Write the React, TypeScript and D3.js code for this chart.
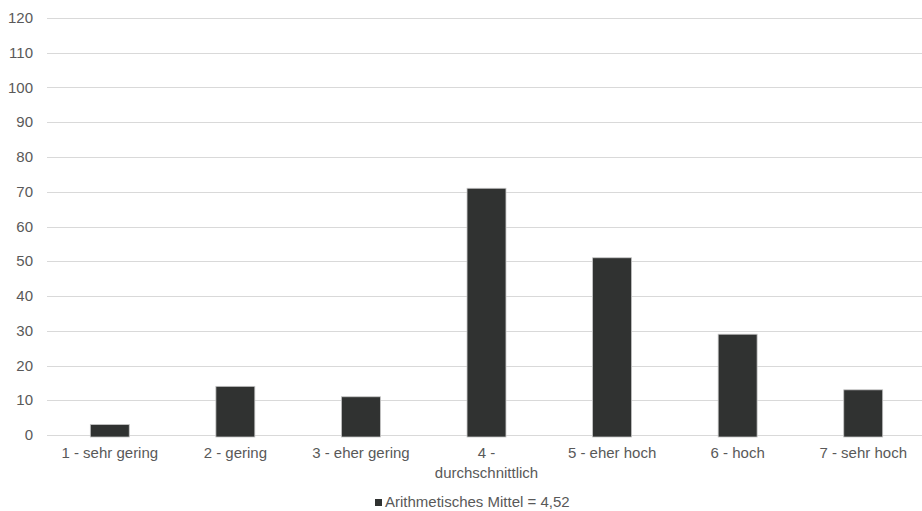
import React from "react";
import * as d3 from "d3";

const categories: string[][] = [
  ["1 - sehr gering"],
  ["2 - gering"],
  ["3 - eher gering"],
  ["4 -", "durchschnittlich"],
  ["5 - eher hoch"],
  ["6 - hoch"],
  ["7 - sehr hoch"],
];
const values: number[] = [3, 14, 11, 71, 51, 29, 13];
const yTicks: number[] = [0, 10, 20, 30, 40, 50, 60, 70, 80, 90, 100, 110, 120];
const legendLabel = "Arithmetisches Mittel = 4,52";

const W = 922;
const H = 511;
const left = 47;
const right = 926;
const top = 18;
const bottom = 435;

export default function App() {
  const keys = categories.map((_, i) => String(i));
  const x = d3.scaleBand<string>().domain(keys).range([left, right]).paddingInner(0.69).paddingOuter(0.345);
  const y = d3.scaleLinear().domain([0, 120]).range([bottom, top]);
  const font = "'Liberation Sans', Arial, sans-serif";
  const textColor = "#595959";
  return (
    <svg width={W} height={H} style={{ position: "absolute", left: 0, top: 0 }} fontFamily={font}>
      <rect x={0} y={0} width={W} height={H} fill="#ffffff" />
      {yTicks.map((t) => (
        <g key={t}>
          <line x1={left} x2={W} y1={Math.round(y(t)) + 0.5} y2={Math.round(y(t)) + 0.5} stroke="#d9d9d9" strokeWidth={1} />
          <text x={33} y={y(t) + 5} textAnchor="end" fontSize={15} fill={textColor}>
            {t}
          </text>
        </g>
      ))}
      {values.map((v, i) => {
        const bx = x(String(i)) as number;
        const bw = x.bandwidth();
        return (
          <rect
            key={i}
            x={bx}
            y={y(v)}
            width={bw}
            height={y(0) - y(v) + 2}
            fill="#303231"
            stroke="#c4c4c4"
            strokeWidth={0.8}
          />
        );
      })}
      {categories.map((lines, i) => {
        const cx = (x(String(i)) as number) + x.bandwidth() / 2;
        return (
          <text key={i} x={cx} y={458} textAnchor="middle" fontSize={15} fill={textColor}>
            {lines.map((l, j) => (
              <tspan key={j} x={cx} dy={j === 0 ? 0 : 20}>
                {l}
              </tspan>
            ))}
          </text>
        );
      })}
      <rect x={375} y={499} width={7} height={7} fill="#303231" />
      <text x={385} y={507} fontSize={15} fill={textColor}>
        {legendLabel}
      </text>
    </svg>
  );
}
